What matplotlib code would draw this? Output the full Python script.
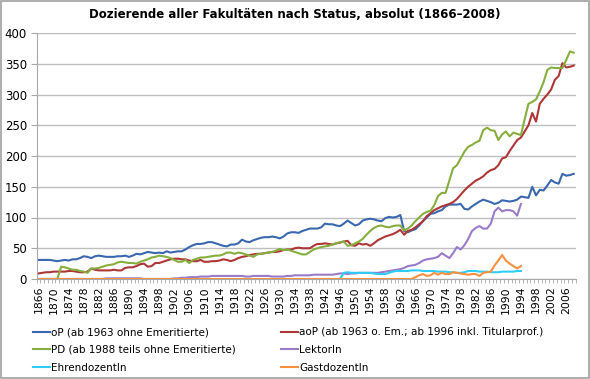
import numpy as np
import matplotlib.pyplot as plt
from matplotlib.patches import Rectangle

years = np.arange(1866, 2009)

# oP (ab 1963 ohne Emeritierte)
oP = [31, 31, 31, 31, 30, 29, 30, 31, 30, 32,
      32, 34, 37, 36, 34, 37, 38, 37, 36, 36,
      36, 37, 37, 38, 36, 38, 41, 40, 42, 44,
      43, 42, 43, 42, 45, 43, 44, 45, 45, 48,
      52, 55, 57, 57, 58, 60, 60, 58, 56, 54,
      53, 56, 56, 58, 64, 61, 60, 63, 65, 67,
      68, 68, 69, 68, 66, 69, 74, 76, 76, 75,
      78, 80, 82, 82, 82, 84, 90, 89, 89, 87,
      86, 90, 95, 91, 87, 89, 95, 97, 98, 97,
      95, 94, 99, 101, 100, 101, 104, 78, 76, 79,
      81, 87, 94, 100, 106, 107, 110, 112, 118, 121,
      121, 121, 122, 114, 113, 118, 122, 126, 129, 127,
      125, 122, 124, 128, 127, 126, 127, 129, 134, 133,
      132, 150, 136, 145, 144, 152, 161, 157, 155, 171,
      168, 169, 171]

# aoP
aoP = [9, 10, 11, 11, 12, 12, 12, 12, 13, 13,
       12, 11, 11, 12, 17, 15, 14, 14, 14, 14,
       15, 14, 14, 18, 19, 19, 21, 24, 25, 20,
       21, 26, 26, 28, 30, 32, 33, 33, 32, 32,
       30, 29, 29, 31, 28, 28, 29, 29, 30, 32,
       31, 29, 31, 34, 36, 37, 39, 40, 41, 41,
       42, 43, 44, 44, 45, 47, 48, 48, 50, 51,
       50, 50, 50, 54, 57, 57, 58, 57, 56, 58,
       59, 61, 62, 55, 54, 58, 56, 57, 54, 58,
       63, 66, 69, 71, 73, 76, 80, 72, 78, 80,
       84, 89, 94, 102, 107, 112, 115, 118, 120, 122,
       125, 130, 137, 144, 150, 155, 160, 163, 167, 173,
       177, 179, 185, 196, 198, 208, 217, 226, 230, 240,
       250, 270, 256, 285, 293, 300, 308, 324, 330, 351,
       344, 345, 347]

# PD
PD = [0, 0, 0, 0, 0, 0, 20, 19, 17, 15,
      15, 13, 12, 10, 17, 17, 18, 20, 22, 23,
      24, 27, 28, 27, 26, 26, 25, 28, 30, 32,
      35, 36, 38, 37, 36, 34, 31, 28, 28, 31,
      26, 31, 33, 35, 35, 36, 37, 38, 38, 40,
      43, 43, 41, 43, 42, 40, 38, 36, 40, 41,
      42, 43, 44, 46, 49, 47, 48, 46, 44, 42,
      40, 40, 44, 48, 50, 52, 53, 54, 56, 58,
      60, 61, 54, 55, 58, 61, 65, 72, 78, 83,
      86, 87, 85, 84, 86, 87, 87, 79, 82, 87,
      94, 100, 106, 109, 111, 120, 135, 140, 140, 160,
      180, 185, 196, 207, 215, 218, 222, 225, 242, 246,
      242, 241, 226, 235, 240, 232, 238, 236, 234, 260,
      285, 288, 292, 305, 320, 340, 344, 343, 343, 343,
      356, 370, 368]

# LektorIn
lektor = ([0] * 18 + [1] * 10 + [0] * 8 +
          [1, 1, 2, 2,
           3, 3, 3, 4, 4, 4, 5, 5, 5, 5,
           5, 5, 5, 5, 5, 4, 4, 5, 5, 5,
           5, 5, 4, 4, 4, 4, 5, 5, 6, 6,
           6, 6, 6, 7, 7, 7, 7, 7, 7, 8,
           9, 9, 8, 9, 9, 10, 10, 10, 10, 10,
           10, 11, 12, 13, 14, 15, 16, 18, 21, 22,
           23, 26, 30, 32, 33, 34, 36, 42, 38, 34,
           42, 52, 48, 55, 65, 78, 83, 86, 82, 82,
           90, 110, 116, 110, 112, 112, 110, 103, 122] + [np.nan] * 14)

# EhrendozentIn
ehren = ([0] * 81 +
         [10, 11, 10, 10, 10, 10, 10, 10, 9,
          8, 8, 8, 10, 12, 13, 13, 13, 13, 14,
          14, 14, 13, 13, 13, 13, 12, 12, 12, 11,
          11, 10, 10, 11, 13, 13, 13, 12, 12, 12,
          11, 11, 11, 12, 12, 12, 12, 13, 13] + [np.nan] * 14)

# GastdozentIn
gast = ([0] * 100 +
        [3, 6, 8, 5, 6, 10, 7, 10, 8, 8,
         11, 10, 9, 8, 7, 8, 8, 5, 10, 11,
         12, 22, 30, 39, 30, 25, 21, 17, 21] + [np.nan] * 14)

labels = ['oP (ab 1963 ohne Emeritierte)',
          'aoP (ab 1963 o. Em.; ab 1996 inkl. Titularprof.)',
          'PD (ab 1988 teils ohne Emeritierte)',
          'LektorIn',
          'EhrendozentIn',
          'GastdozentIn']
colors = ['#3A68AE', '#AE3636', '#86AE3E', '#9B7BC8', '#2FCDF5', '#F7913F']


def plot_dozierende():
    plt.close('all')
    fig = plt.figure(figsize=(5.9, 3.79), dpi=100)
    ax = fig.add_axes([36.6 / 590, 1 - 279 / 379, 539 / 590, 246 / 379])

    series = [oP, aoP, PD, lektor, ehren, gast]
    handles = []
    for vals, lab, col in zip(series, labels, colors):
        h, = ax.plot(years, np.array(vals, dtype=float), '-', color=col,
                     lw=1.5, label=lab)
        handles.append(h)

    ax.set_xlim(1865.5, 2008.5)
    ax.set_ylim(0, 400)
    ax.set_yticks(np.arange(0, 401, 50))
    ax.yaxis.grid(True, color='#BEBEBE', lw=1)
    ax.set_axisbelow(True)
    ax.set_xticks(np.arange(1866, 2007, 4))
    ax.set_xticklabels([str(y) for y in range(1866, 2007, 4)], rotation=90)
    ax.set_xticks(np.arange(1865.5, 2009, 1), minor=True)
    ax.tick_params(axis='x', which='major', length=0, pad=5, labelsize=7.8)
    ax.tick_params(axis='x', which='minor', length=3, color='#A8A8A8')
    ax.tick_params(axis='y', length=4, color='#A8A8A8', labelsize=8.5, pad=3)
    for s in ['top', 'right']:
        ax.spines[s].set_visible(False)
    for s in ['left', 'bottom']:
        ax.spines[s].set_color('#A8A8A8')

    fig.text(0.5, 1 - 15 / 379, 'Dozierende aller Fakultäten nach Status, absolut (1866–2008)',
             ha='center', va='center', fontsize=8.5, fontweight='bold')

    # legend in two columns, row order like the original
    kw = dict(loc='upper left', frameon=False, fontsize=7.5, handlelength=1.6,
              handletextpad=0.15, labelspacing=0.75, borderaxespad=0)
    fig.legend(handles[0::2], labels[0::2], bbox_to_anchor=(29 / 590, 1 - 323 / 379), **kw)
    fig.legend(handles[1::2], labels[1::2], bbox_to_anchor=(277 / 590, 1 - 323 / 379), **kw)

    fig.patches.append(Rectangle((0.001, 0.002), 0.997, 0.995, transform=fig.transFigure,
                                 fill=False, edgecolor='#A0A0A0', lw=1.2))

    fig.savefig('out.png', dpi=100)


if __name__ == '__main__':
    plot_dozierende()
